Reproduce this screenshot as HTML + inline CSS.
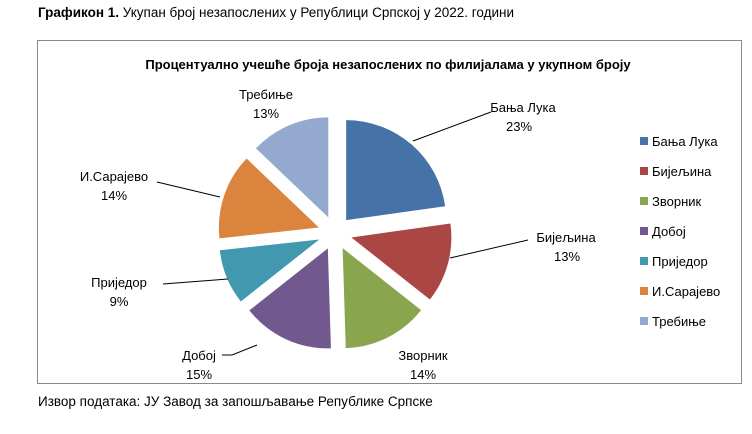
<!DOCTYPE html>
<html><head><meta charset="utf-8"><style>
body{margin:0;background:#fff;width:752px;height:429px;overflow:hidden;font-family:"Liberation Sans","DejaVu Sans",sans-serif}
</style></head><body>
<svg id="s" width="752" height="429" xmlns="http://www.w3.org/2000/svg" font-family="Liberation Sans, DejaVu Sans, sans-serif">
<text x="38" y="17" font-size="13.5" fill="#000"><tspan font-weight="bold">Графикон  1.</tspan> Укупан број незапослених у Републици Српској у 2022. години</text>
<rect x="37.5" y="40.5" width="704" height="343" fill="#fff" stroke="#888" stroke-width="1"/>
<text x="388" y="69" font-size="13" font-weight="bold" text-anchor="middle">Процентуално учешће броја незапослених по филијалама у укупном броју</text>
<g id="pie"></g>
<g stroke="#000" stroke-width="1" fill="none">
<polyline points="413,141 491,112"/>
<polyline points="450,258 528,240"/>
<polyline points="222,355 232,355 257,345"/>
<polyline points="163,284 228,279"/>
<polyline points="157,182 220,197"/>
</g>
<g font-size="13" text-anchor="middle" fill="#000">
<text x="523" y="112">Бања Лука</text><text x="519" y="131">23%</text>
<text x="566" y="242">Бијељина</text><text x="567" y="261">13%</text>
<text x="423" y="360">Зворник</text><text x="423" y="379">14%</text>
<text x="199" y="360">Добој</text><text x="199" y="379">15%</text>
<text x="119" y="287">Приједор</text><text x="119" y="306">9%</text>
<text x="114" y="181">И.Сарајево</text><text x="114" y="200">14%</text>
<text x="266" y="99">Требиње</text><text x="266" y="118">13%</text>
</g>
<g font-size="13" fill="#000">
<rect x="640" y="137" width="8" height="8" fill="#4572A7"/><text x="652" y="146">Бања Лука</text>
<rect x="640" y="167" width="8" height="8" fill="#AA4643"/><text x="652" y="176">Бијељина</text>
<rect x="640" y="197" width="8" height="8" fill="#89A54E"/><text x="652" y="206">Зворник</text>
<rect x="640" y="227" width="8" height="8" fill="#71588F"/><text x="652" y="236">Добој</text>
<rect x="640" y="257" width="8" height="8" fill="#4198AF"/><text x="652" y="266">Приједор</text>
<rect x="640" y="287" width="8" height="8" fill="#DB843D"/><text x="652" y="296">И.Сарајево</text>
<rect x="640" y="317" width="8" height="8" fill="#93A9CF"/><text x="652" y="326">Требиње</text>
</g>
<text x="38" y="406" font-size="13.5" fill="#000">Извор података: ЈУ Завод за запошљавање Републике Српске</text>
</svg>
<script>
var v=[23,13,14,15,9,14,13],c=["#4572A7","#AA4643","#89A54E","#71588F","#4198AF","#DB843D","#93A9CF"];
var t=v.reduce((a,b)=>a+b,0),cx=335,cy=233,r=100,e=17,a=0,g=document.getElementById("pie"),h="";
for(var i=0;i<v.length;i++){var s=a,en=a+v[i]/t*2*Math.PI,m=(s+en)/2;a=en;
var ox=cx+e*Math.sin(m),oy=cy-e*Math.cos(m);
var x1=ox+r*Math.sin(s),y1=oy-r*Math.cos(s),x2=ox+r*Math.sin(en),y2=oy-r*Math.cos(en);
h+='<path d="M'+ox+','+oy+' L'+x1+','+y1+' A'+r+','+r+' 0 '+((en-s)>Math.PI?1:0)+' 1 '+x2+','+y2+' Z" fill="'+c[i]+'"/>';}
g.innerHTML=h;
</script>
</body></html>
